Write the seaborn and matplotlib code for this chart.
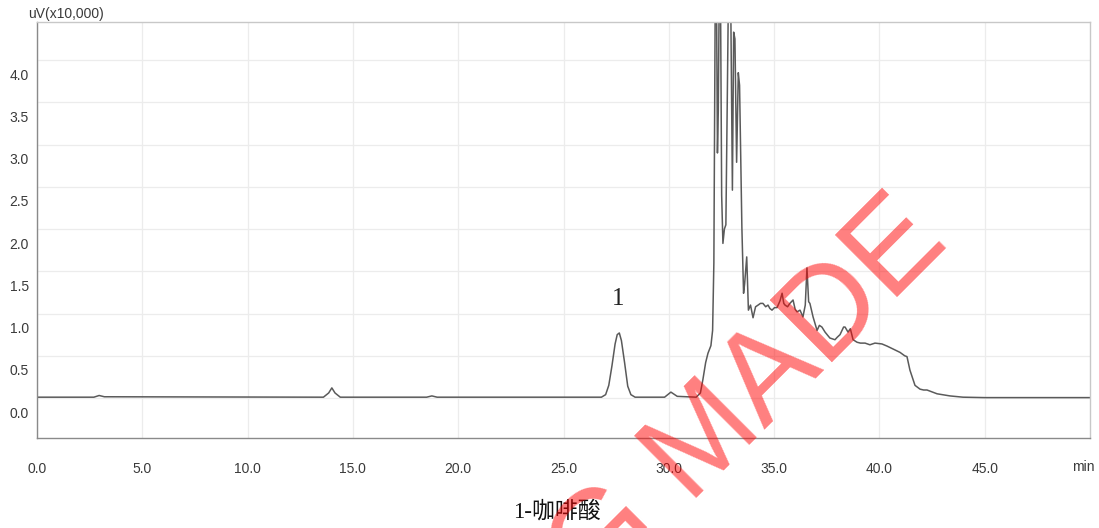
import numpy as np
import pandas as pd
import matplotlib
matplotlib.use("Agg")
import matplotlib.pyplot as plt
import seaborn as sns
from matplotlib.ticker import MultipleLocator
from matplotlib.transforms import ScaledTranslation

sns.set_style("white")
plt.rcParams["font.family"] = ["Liberation Sans", "DejaVu Sans"]

# ===========================
# DATA (retention time in min, signal in uV x 10,000)
# ===========================

# flat part with the small bumps and peak 1 (caffeic acid)
early_rt = [0.0, 2.7, 2.95, 3.2, 13.6, 13.85, 14.0, 14.15, 14.4, 18.5, 18.75, 19.0,
            26.8, 27.0, 27.15, 27.3, 27.45, 27.55, 27.65, 27.75, 27.9, 28.05, 28.2, 28.4,
            29.8, 30.1, 30.4, 31.3]
early_uv = [0.01, 0.01, 0.03, 0.015, 0.01, 0.06, 0.12, 0.06, 0.01, 0.01, 0.025, 0.01,
            0.01, 0.04, 0.15, 0.38, 0.64, 0.75, 0.77, 0.68, 0.42, 0.14, 0.04, 0.01,
            0.01, 0.07, 0.02, 0.01]

# big unresolved cluster after 31 min
cluster_rt = [31.5, 31.62, 31.75, 31.86, 32.0, 32.08, 32.14, 32.21, 32.26, 32.31, 32.35,
              32.40, 32.45, 32.51, 32.57, 32.64, 32.71, 32.78, 32.84, 32.93, 33.02, 33.08,
              33.14, 33.22, 33.30, 33.36, 33.47, 33.55, 33.60, 33.70, 33.78, 33.88, 34.00,
              34.12, 34.24, 34.35, 34.47, 34.60, 34.71, 34.80, 34.90, 35.02, 35.14, 35.28,
              35.38, 35.46, 35.52, 35.64, 35.75, 35.90, 36.00, 36.09, 36.23, 36.37, 36.48,
              36.56, 36.64, 36.70, 36.85, 37.04, 37.15, 37.27, 37.42, 37.55, 37.65, 37.89,
              38.00, 38.13, 38.30, 38.37, 38.51, 38.62, 38.75, 38.94, 39.10, 39.32, 39.55,
              39.79, 40.12, 40.36, 40.65, 40.98, 41.20, 41.31, 41.45, 41.69, 41.93, 42.10,
              42.26, 42.74, 43.35, 43.97, 45.0, 50.0]
cluster_uv = [0.06, 0.22, 0.42, 0.53, 0.62, 0.80, 1.60, 5.0, 5.0, 2.90, 3.40,
              5.0, 5.0, 2.40, 1.83, 2.00, 2.05, 3.60, 5.0, 5.0, 2.46, 4.33,
              4.25, 2.79, 3.85, 3.70, 2.02, 1.24, 1.35, 1.67, 1.04, 1.10, 0.95,
              1.08, 1.10, 1.12, 1.12, 1.08, 1.10, 1.06, 1.04, 1.07, 1.07, 1.15,
              1.24, 1.12, 1.10, 1.08, 1.12, 1.16, 1.05, 1.02, 1.04, 0.96, 1.10,
              1.54, 1.14, 1.12, 0.96, 0.80, 0.86, 0.84, 0.78, 0.74, 0.71, 0.69,
              0.72, 0.75, 0.84, 0.84, 0.78, 0.82, 0.69, 0.66, 0.65, 0.65, 0.63,
              0.65, 0.64, 0.615, 0.58, 0.54, 0.50, 0.49, 0.33, 0.15, 0.105, 0.095,
              0.095, 0.05, 0.025, 0.01, 0.005, 0.005]

y_ticks = [0.0, 0.5, 1.0, 1.5, 2.0, 2.5, 3.0, 3.5, 4.0]
x_ticks = [0, 5, 10, 15, 20, 25, 30, 35, 40, 45]

df = pd.DataFrame({
    "rt": early_rt + cluster_rt,
    "signal": early_uv + cluster_uv,
})

# ===========================
# PLOT
# ===========================

W, H = 1099, 528
fig = plt.figure(figsize=(W / 100, H / 100), dpi=100)
ax = fig.add_axes([37 / W, 1 - 438 / H, (1090 - 37) / W, (438 - 22) / H])

sns.lineplot(
    data=df,
    x="rt",
    y="signal",
    ax=ax,
    color="#5a5a5a",
    linewidth=1.1,
    estimator=None,
    sort=False,
)

ax.set_xlim(0, 50)
ax.set_ylim(-0.473, 4.45)
ax.set_xlabel("")
ax.set_ylabel("")

ax.set_xticks(x_ticks)
ax.set_xticklabels([f"{v:.1f}" for v in x_ticks])
ax.set_yticks(y_ticks)
ax.set_yticklabels([f"{v:.1f}" for v in y_ticks])
ax.xaxis.set_minor_locator(MultipleLocator(1))
ax.yaxis.set_minor_locator(MultipleLocator(0.1))

ax.grid(True, which="major", color="#ececec", linewidth=0.9)
ax.set_axisbelow(True)

for side in ["left", "bottom"]:
    ax.spines[side].set_color("#8a8a8a")
    ax.spines[side].set_linewidth(1.0)
for side in ["top", "right"]:
    ax.spines[side].set_color("#c8c8c8")
    ax.spines[side].set_linewidth(1.0)

ax.tick_params(which="major", direction="out", length=5, width=0.8,
               color="#7a7a7a", labelsize=10, labelcolor="#3a3a3a")
ax.tick_params(which="minor", direction="out", length=3, width=0.7, color="#7a7a7a")
ax.tick_params(axis="x", which="major", pad=12)
ax.tick_params(axis="y", which="major", pad=1)

# y labels sit a bit below their ticks in the original
shift = ScaledTranslation(0, -0.14, fig.dpi_scale_trans)
for tick in ax.yaxis.get_major_ticks():
    tick.label1.set_transform(tick.label1.get_transform() + shift)

fig.text(66 / W, 1 - 14 / H, "uV(x10,000)", fontsize=10, color="#3a3a3a",
         ha="center", va="center")
fig.text(1083 / W, 1 - 467 / H, "min", fontsize=10, color="#3a3a3a",
         ha="center", va="center")

ax.text(27.6, 1.17, "1", family="Liberation Serif", fontsize=18,
        ha="center", va="center", color="#222222")

fig.text(557 / W, 1 - 512 / H, "1-咖啡酸",
         family=["Liberation Serif", "Noto Sans CJK SC"], fontsize=16.5,
         ha="center", va="center", color="#111111")

# watermark
fig.text(0.682, 0.245, "G MADE", rotation=45, rotation_mode="anchor",
         ha="center", va="center", fontsize=92, color="red", alpha=0.5,
         family="Liberation Sans", zorder=10)

fig.savefig("out.png", dpi=100)
